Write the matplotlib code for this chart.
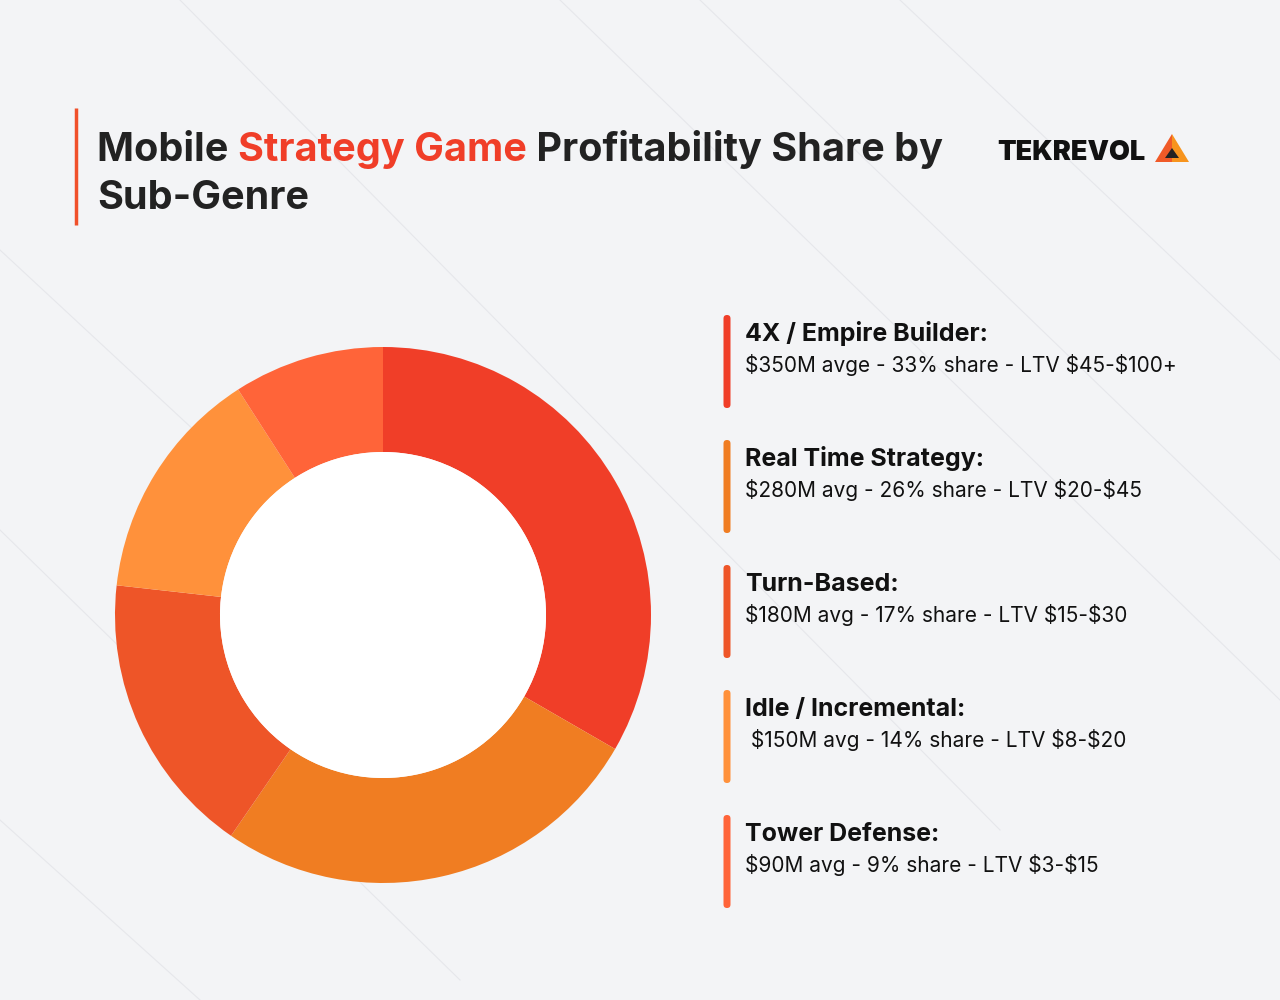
import matplotlib.pyplot as plt
from matplotlib.patches import Circle, Polygon, FancyBboxPatch

# data
genres = ["4X / Empire Builder:", "Real Time Strategy:", "Turn-Based:",
          "Idle / Incremental:", "Tower Defense:"]
shares = [33, 26, 17, 14, 9]
details = ["$350M avge - 33% share - LTV $45-$100+",
           "$280M avg - 26% share - LTV $20-$45",
           "$180M avg - 17% share - LTV $15-$30",
           " $150M avg - 14% share - LTV $8-$20",
           "$90M avg - 9% share - LTV $3-$15"]
colors = ["#F03E28", "#F07D22", "#EE5528", "#FF913B", "#FF6439"]

FONT = "Inter"
H = 1000


def Y(y):
    # pixel y (top-down) to axes y (bottom-up)
    return H - y


fig = plt.figure(figsize=(12.8, 10), dpi=100)
fig.patch.set_facecolor("#F3F4F6")
ax = fig.add_axes([0, 0, 1, 1])
ax.set_xlim(0, 1280)
ax.set_ylim(0, 1000)
ax.axis("off")

# faint diagonal background lines
for x0, y0, x1, y1 in [(0, 250, 420, 640), (0, 530, 460, 980), (560, 0, 1280, 700),
                       (700, 0, 1280, 560), (180, 0, 1000, 830), (900, 0, 1280, 360),
                       (0, 820, 200, 1000)]:
    ax.plot([x0, x1], [Y(y0), Y(y1)], color="#E6E7EB", lw=0.8, zorder=0)

# title accent line
ax.plot([76, 76], [Y(108), Y(225)], color="#F0502A", lw=2.5, solid_capstyle="butt")

# title with coloured words
fig.canvas.draw()
renderer = fig.canvas.get_renderer()
title_parts = [("Mobile ", "#222222"), ("Strategy Game", "#F03E28"),
               (" Profitability Share by", "#222222")]
x = 97
for part, col in title_parts:
    t = ax.text(x, Y(161), part, fontsize=28.5, fontweight="bold", family=FONT,
                color=col, va="baseline", ha="left")
    bb = t.get_window_extent(renderer)
    x += bb.width
ax.text(97, Y(209), "Sub-Genre", fontsize=28.5, fontweight="bold", family=FONT,
        color="#222222", va="baseline", ha="left")

# logo
ax.text(997, Y(160), "TEKREVOL", fontsize=19.5, fontweight="black", family=FONT,
        color="#111111", va="baseline", ha="left")
ax.add_patch(Polygon([(1172, Y(134)), (1155, Y(162)), (1172, Y(162))],
                     closed=True, color="#F05A28", lw=0))
ax.add_patch(Polygon([(1172, Y(134)), (1189, Y(162)), (1172, Y(162))],
                     closed=True, color="#F7941D", lw=0))
ax.add_patch(Polygon([(1172, Y(148)), (1165, Y(158)), (1179, Y(158))],
                     closed=True, color="#222222", lw=0))

# donut
cx, cy, r_out, r_in = 383, Y(615), 268, 163
ax.pie(shares, colors=colors, startangle=90, counterclock=False,
       center=(cx, cy), radius=r_out, wedgeprops=dict(width=r_out - r_in, lw=0))
ax.add_patch(Circle((cx, cy), r_in, color="white", lw=0, zorder=5))
ax.set_xlim(0, 1280)
ax.set_ylim(0, 1000)
ax.set_aspect("equal")

# legend
for i, (g, d, c) in enumerate(zip(genres, details, colors)):
    top = 315 + 125 * i
    ax.add_patch(FancyBboxPatch((723.5, Y(top + 93)), 7, 93,
                                boxstyle="round,pad=0,rounding_size=3.5",
                                color=c, lw=0))
    ax.text(745, Y(top + 26), g, fontsize=18, fontweight="bold", family=FONT,
            color="#111111", va="baseline", ha="left", parse_math=False)
    ax.text(745, Y(top + 57), d, fontsize=15, family=FONT,
            color="#111111", va="baseline", ha="left", parse_math=False)

fig.savefig("out.png", dpi=100, facecolor=fig.get_facecolor())
